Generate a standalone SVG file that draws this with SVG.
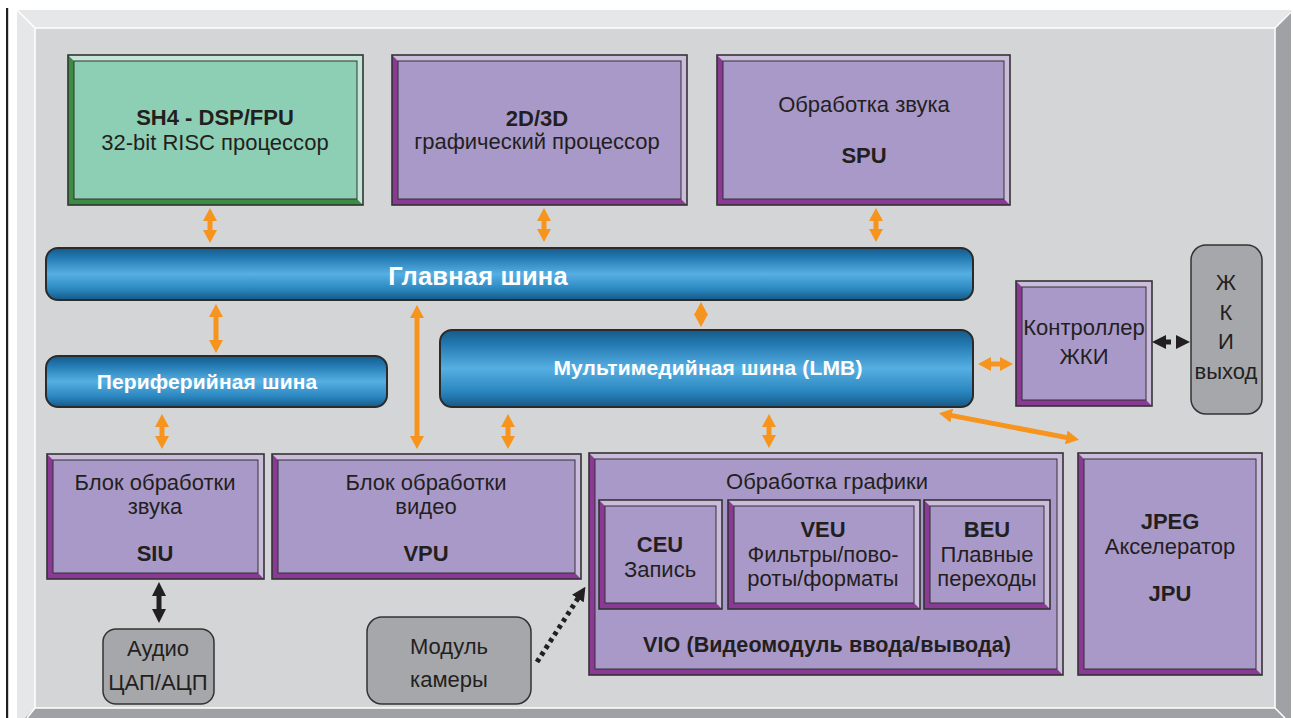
<svg xmlns="http://www.w3.org/2000/svg" width="1293" height="718" viewBox="0 0 1293 718">
<style>
text{font-family:"Liberation Sans",Arial,sans-serif;fill:#231f20;text-anchor:middle;font-size:22px;letter-spacing:0px}
.b{font-weight:bold}
.bus{fill:url(#busg);stroke:#2b2b2b;stroke-width:2}
.bt{fill:#fff;font-weight:bold;font-size:21px;letter-spacing:0.15px}
.lv{fill:#cbbcdc;stroke:none}.dv{fill:#8a3a94}.mv{fill:#a999c9;stroke:#333;stroke-width:1}
.lg{fill:#c4e6d6;stroke:none}.dg{fill:#3c8c44}.mg{fill:#8dcfb4;stroke:#333;stroke-width:1}
.ol{fill:none;stroke:#333;stroke-width:1.6}
.gray{fill:#a6a7aa;stroke:#333;stroke-width:1.5}
.oa{stroke:#f7941d;stroke-width:5;fill:none;marker-start:url(#oh);marker-end:url(#oh)}
</style>
<defs>
<linearGradient id="busg" x1="0" y1="0" x2="0" y2="1">
<stop offset="0" stop-color="#165a88"/>
<stop offset="0.18" stop-color="#2279b2"/>
<stop offset="0.5" stop-color="#56afe2"/>
<stop offset="0.8" stop-color="#2a86bf"/>
<stop offset="1" stop-color="#155886"/>
</linearGradient>
<marker id="oh" viewBox="0 0 13 14" refX="1" refY="7" markerWidth="13" markerHeight="14" markerUnits="userSpaceOnUse" orient="auto-start-reverse">
<path d="M0,0 L13,7 L0,14 Z" fill="#f7941d"/>
</marker>
<marker id="kh" viewBox="0 0 14 14" refX="1" refY="7" markerWidth="14" markerHeight="14" markerUnits="userSpaceOnUse" orient="auto-start-reverse">
<path d="M0,0 L14,7 L0,14 Z" fill="#231f20"/>
</marker>
</defs>

<g id="frame">
<rect x="6" y="8" width="2.2" height="710" fill="#231f20"/>
<rect x="17" y="10" width="1274" height="708" fill="#e6e7e8"/>
<polygon points="1291,11 1275,28 1275,708 1291,724" fill="#a0a1a5"/>
<polygon points="35,708 1275,708 1291,724 19,724" fill="#a0a1a5"/>
<rect x="35" y="28" width="1240" height="680" fill="#d4d5d7" stroke="#fff" stroke-width="1.5"/>
<path d="M17,10 L35,28 M1291,12 L1275,28 M1275,708 L1285,718 M35,708 L27,718" stroke="#fff" stroke-width="1.5"/>
</g>

<g id="sh4">
<rect class="lg" x="68" y="55" width="295" height="150"/>
<polygon class="dg" points="68,55 74,61 74,199 357,199 363,205 68,205"/>
<rect class="mg" x="74" y="61" width="283" height="138"/>
<rect class="ol" x="68" y="55" width="295" height="150"/>
<text class="b" x="215" y="125">SH4 - DSP/FPU</text>
<text x="215" y="150">32-bit RISC процессор</text>
</g>

<g id="gpu">
<rect class="lv" x="392" y="55" width="295" height="150"/>
<polygon class="dv" points="392,55 398,61 398,199 681,199 687,205 392,205"/>
<rect class="mv" x="398" y="61" width="283" height="138"/>
<rect class="ol" x="392" y="55" width="295" height="150"/>
<text class="b" x="537" y="126">2D/3D</text>
<text x="537" y="149">графический процессор</text>
</g>

<g id="spu">
<rect class="lv" x="717" y="55" width="293" height="150"/>
<polygon class="dv" points="717,55 723,61 723,199 1004,199 1010,205 717,205"/>
<rect class="mv" x="723" y="61" width="281" height="138"/>
<rect class="ol" x="717" y="55" width="293" height="150"/>
<text x="864" y="112">Обработка звука</text>
<text class="b" x="864" y="163">SPU</text>
</g>

<g id="main-bus">
<rect class="bus" x="46" y="248" width="927" height="52" rx="12"/>
<text class="bt" x="478" y="285" style="font-size:25.5px;letter-spacing:0.2px">Главная шина</text>
</g>

<g id="periph-bus">
<rect class="bus" x="46" y="356" width="341" height="51" rx="12"/>
<text class="bt" x="207" y="389">Периферийная шина</text>
</g>

<g id="lmb-bus">
<rect class="bus" x="440" y="330" width="533" height="77" rx="12"/>
<text class="bt" x="708" y="375">Мультимедийная шина (LMB)</text>
</g>

<g id="lcdc">
<rect class="lv" x="1016" y="281" width="136" height="125"/>
<polygon class="dv" points="1016,281 1022,287 1022,400 1146,400 1152,406 1016,406"/>
<rect class="mv" x="1022" y="287" width="124" height="113"/>
<rect class="ol" x="1016" y="281" width="136" height="125"/>
<text x="1084" y="335">Контроллер</text>
<text x="1084" y="364">ЖКИ</text>
</g>

<g id="lcd-out">
<rect class="gray" x="1191" y="245" width="71" height="169" rx="15"/>
<text x="1226" y="290">Ж</text>
<text x="1226" y="320">К</text>
<text x="1226" y="349">И</text>
<text x="1226" y="379">выход</text>
</g>

<g id="siu">
<rect class="lv" x="47" y="454" width="217" height="125"/>
<polygon class="dv" points="47,454 53,460 53,573 258,573 264,579 47,579"/>
<rect class="mv" x="53" y="460" width="205" height="113"/>
<rect class="ol" x="47" y="454" width="217" height="125"/>
<text x="155" y="490">Блок обработки</text>
<text x="155" y="514">звука</text>
<text class="b" x="155" y="561">SIU</text>
</g>

<g id="vpu">
<rect class="lv" x="272" y="454" width="309" height="125"/>
<polygon class="dv" points="272,454 278,460 278,573 575,573 581,579 272,579"/>
<rect class="mv" x="278" y="460" width="297" height="113"/>
<rect class="ol" x="272" y="454" width="309" height="125"/>
<text x="426" y="490">Блок обработки</text>
<text x="426" y="514">видео</text>
<text class="b" x="426" y="561">VPU</text>
</g>

<g id="vio">
<rect class="lv" x="589" y="453" width="474" height="222"/>
<polygon class="dv" points="589,453 595,459 595,669 1057,669 1063,675 589,675"/>
<rect class="mv" x="595" y="459" width="462" height="210"/>
<rect class="ol" x="589" y="453" width="474" height="222"/>
<text x="827" y="489">Обработка графики</text>
<text class="b" x="827" y="652" style="font-size:21.5px;letter-spacing:0.1px">VIO (Видеомодуль ввода/вывода)</text>
</g>

<g id="ceu">
<rect class="lv" x="599" y="500" width="123" height="109"/>
<polygon class="dv" points="599,500 605,506 605,603 716,603 722,609 599,609"/>
<rect class="mv" x="605" y="506" width="111" height="97"/>
<rect class="ol" x="599" y="500" width="123" height="109"/>
<text class="b" x="660" y="552">CEU</text>
<text x="660" y="577">Запись</text>
</g>

<g id="veu">
<rect class="lv" x="728" y="500" width="192" height="109"/>
<polygon class="dv" points="728,500 734,506 734,603 914,603 920,609 728,609"/>
<rect class="mv" x="734" y="506" width="180" height="97"/>
<rect class="ol" x="728" y="500" width="192" height="109"/>
<text class="b" x="823" y="537">VEU</text>
<text x="823" y="562">Фильтры/пово-</text>
<text x="823" y="586">роты/форматы</text>
</g>

<g id="beu">
<rect class="lv" x="924" y="500" width="126" height="109"/>
<polygon class="dv" points="924,500 930,506 930,603 1044,603 1050,609 924,609"/>
<rect class="mv" x="930" y="506" width="114" height="97"/>
<rect class="ol" x="924" y="500" width="126" height="109"/>
<text class="b" x="987" y="537">BEU</text>
<text x="987" y="562">Плавные</text>
<text x="987" y="586">переходы</text>
</g>

<g id="jpu">
<rect class="lv" x="1078" y="453" width="184" height="222"/>
<polygon class="dv" points="1078,453 1084,459 1084,669 1256,669 1262,675 1078,675"/>
<rect class="mv" x="1084" y="459" width="172" height="210"/>
<rect class="ol" x="1078" y="453" width="184" height="222"/>
<text class="b" x="1170" y="529">JPEG</text>
<text x="1170" y="554">Акселератор</text>
<text class="b" x="1170" y="601">JPU</text>
</g>

<g id="audio">
<rect class="gray" x="103" y="629" width="111" height="75" rx="13"/>
<text x="158" y="656">Аудио</text>
<text x="158" y="690">ЦАП/АЦП</text>
</g>

<g id="camera">
<rect class="gray" x="367" y="617" width="164" height="87" rx="15"/>
<text x="449" y="654">Модуль</text>
<text x="449" y="687">камеры</text>
</g>

<g id="connectors">
<line class="oa" x1="210" y1="220" x2="210" y2="231"/>
<line class="oa" x1="544" y1="220" x2="544" y2="230"/>
<line class="oa" x1="876" y1="220" x2="876" y2="230"/>
<line class="oa" x1="216" y1="316" x2="216" y2="341"/>
<line class="oa" x1="417" y1="317" x2="417" y2="437"/>
<line class="oa" x1="701" y1="314" x2="701" y2="315"/>
<line class="oa" x1="162" y1="426" x2="162" y2="437"/>
<line class="oa" x1="508" y1="426" x2="508" y2="437"/>
<line class="oa" x1="769" y1="426" x2="769" y2="436"/>
<line class="oa" x1="990" y1="364" x2="1001" y2="364"/>
<line class="oa" x1="950.8" y1="415.4" x2="1067.2" y2="437.6"/>
<line x1="159" y1="595" x2="159" y2="610" stroke="#231f20" stroke-width="5" marker-start="url(#kh)" marker-end="url(#kh)"/>
<line x1="1165" y1="342" x2="1171" y2="342" stroke="#231f20" stroke-width="5" marker-start="url(#kh)"/>
<polygon points="1176,335 1190,342 1176,349" fill="#231f20"/>
<line x1="537" y1="662" x2="578.4" y2="597.7" stroke="#231f20" stroke-width="5" stroke-dasharray="4 4" marker-end="url(#kh)"/>
</g>
</svg>
